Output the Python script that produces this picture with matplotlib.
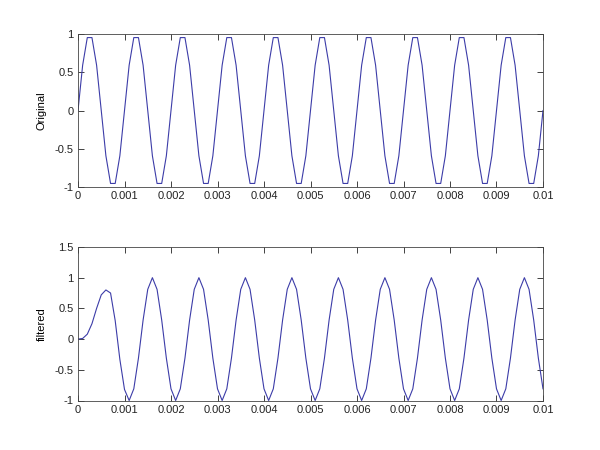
import matplotlib
matplotlib.use('Agg')
import matplotlib.pyplot as plt

# sample times, 0 to 0.01 s in 0.1 ms steps
t = [i * 0.0001 for i in range(101)]

original = [
    0.0, 0.59, 0.95, 0.95, 0.59, 0.0, -0.59, -0.95, -0.95, -0.59,
    0.0, 0.59, 0.95, 0.95, 0.59, 0.0, -0.59, -0.95, -0.95, -0.59,
    0.0, 0.59, 0.95, 0.95, 0.59, 0.0, -0.59, -0.95, -0.95, -0.59,
    0.0, 0.59, 0.95, 0.95, 0.59, 0.0, -0.59, -0.95, -0.95, -0.59,
    0.0, 0.59, 0.95, 0.95, 0.59, 0.0, -0.59, -0.95, -0.95, -0.59,
    0.0, 0.59, 0.95, 0.95, 0.59, 0.0, -0.59, -0.95, -0.95, -0.59,
    0.0, 0.59, 0.95, 0.95, 0.59, 0.0, -0.59, -0.95, -0.95, -0.59,
    0.0, 0.59, 0.95, 0.95, 0.59, 0.0, -0.59, -0.95, -0.95, -0.59,
    0.0, 0.59, 0.95, 0.95, 0.59, 0.0, -0.59, -0.95, -0.95, -0.59,
    0.0, 0.59, 0.95, 0.95, 0.59, 0.0, -0.59, -0.95, -0.95, -0.59,
    0.0,
]

filtered = [
    0.0, 0.01, 0.08, 0.25, 0.50, 0.72, 0.80, 0.75, 0.30, -0.33,
    -0.82, -1.0, -0.81, -0.31, 0.31, 0.81, 1.0, 0.81, 0.31, -0.31,
    -0.81, -1.0, -0.81, -0.31, 0.31, 0.81, 1.0, 0.81, 0.31, -0.31,
    -0.81, -1.0, -0.81, -0.31, 0.31, 0.81, 1.0, 0.81, 0.31, -0.31,
    -0.81, -1.0, -0.81, -0.31, 0.31, 0.81, 1.0, 0.81, 0.31, -0.31,
    -0.81, -1.0, -0.81, -0.31, 0.31, 0.81, 1.0, 0.81, 0.31, -0.31,
    -0.81, -1.0, -0.81, -0.31, 0.31, 0.81, 1.0, 0.81, 0.31, -0.31,
    -0.81, -1.0, -0.81, -0.31, 0.31, 0.81, 1.0, 0.81, 0.31, -0.31,
    -0.81, -1.0, -0.81, -0.31, 0.31, 0.81, 1.0, 0.81, 0.31, -0.31,
    -0.81, -1.0, -0.81, -0.31, 0.31, 0.81, 1.0, 0.81, 0.31, -0.31,
    -0.81,
]

x_ticks = [0, 0.001, 0.002, 0.003, 0.004, 0.005, 0.006, 0.007, 0.008, 0.009, 0.01]
x_labels = ['0', '0.001', '0.002', '0.003', '0.004', '0.005', '0.006',
            '0.007', '0.008', '0.009', '0.01']
y_ticks_top = [-1, -0.5, 0, 0.5, 1]
y_labels_top = ['-1', '-0.5', '0', '0.5', '1']
y_ticks_bot = [-1, -0.5, 0, 0.5, 1, 1.5]
y_labels_bot = ['-1', '-0.5', '0', '0.5', '1', '1.5']

plt.rcParams['font.family'] = ['Liberation Sans', 'DejaVu Sans']
plt.rcParams['font.size'] = 8

fig = plt.figure(figsize=(6, 4.5), dpi=100)

panels = [
    ([0.13, 0.5838, 0.775, 0.3412], original, 'Original', y_ticks_top, y_labels_top, (-1, 1)),
    ([0.13, 0.11, 0.775, 0.3412], filtered, 'filtered', y_ticks_bot, y_labels_bot, (-1, 1.5)),
]

for pos, y_data, name, yt, yl, ylim in panels:
    ax = fig.add_axes(pos)
    ax.plot(t, y_data, color='#3c3ca8', linewidth=0.8)
    ax.set_xlim(0, 0.01)
    ax.set_ylim(*ylim)
    ax.set_xticks(x_ticks)
    ax.set_xticklabels(x_labels)
    ax.set_yticks(yt)
    ax.set_yticklabels(yl)
    ax.set_ylabel(name, labelpad=6)
    ax.tick_params(direction='in', length=4, width=0.6, top=True, right=True,
                   colors='#222222', pad=3)
    for spine in ax.spines.values():
        spine.set_linewidth(0.6)
        spine.set_color('#444444')

fig.savefig('out.png', dpi=100, facecolor='white')
